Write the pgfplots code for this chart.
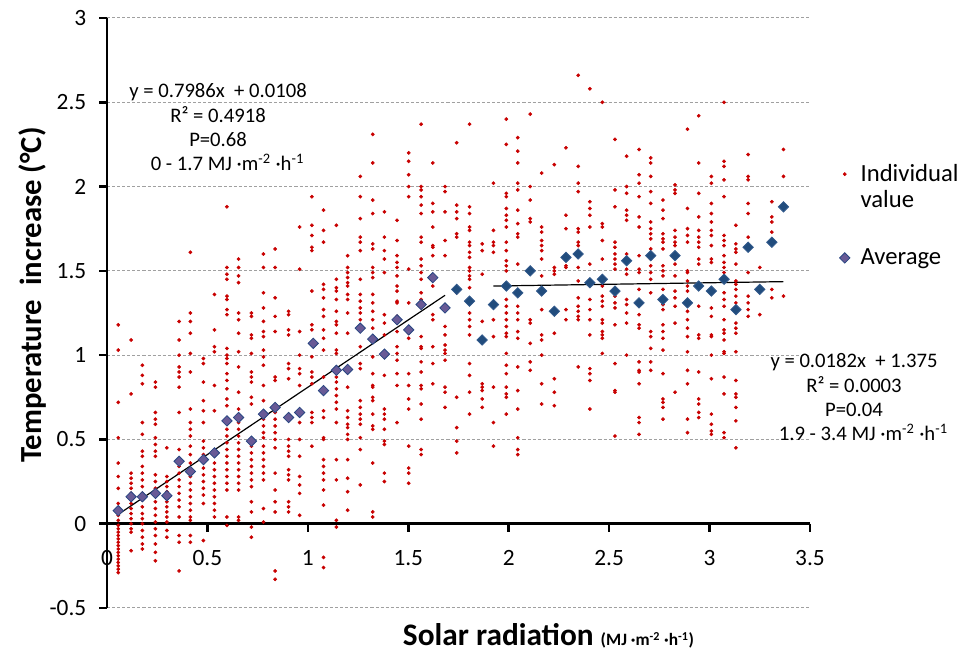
\documentclass[border=0pt]{standalone}
\usepackage{pgfplots}
\pgfplotsset{compat=1.18}
\usepackage{fontspec}
\setmainfont{Carlito}
\definecolor{dotred}{RGB}{200,0,0}
\definecolor{avgfill}{RGB}{104,90,150}
\definecolor{avgedge}{RGB}{40,70,130}
\definecolor{avgdark}{RGB}{33,76,125}
\definecolor{avgdarkedge}{RGB}{50,90,140}
\definecolor{gridgray}{RGB}{160,160,160}
\begin{document}
\begin{tikzpicture}
\begin{axis}[
  at={(0,0)}, anchor=south west,
  width=527.25pt, height=442.5pt, scale only axis,
  xmin=0, xmax=3.5, ymin=-0.5, ymax=3,
  axis x line*=middle, axis y line*=left,
  axis line style={line width=2.2pt, black},
  xtick={0,0.5,1,1.5,2,2.5,3,3.5}, xticklabels={0,0.5,1,1.5,2,2.5,3,3.5},
  ytick={-0.5,0,0.5,1,1.5,2,2.5,3}, yticklabels={-0.5,0,0.5,1,1.5,2,2.5,3},
  hide obscured x ticks=false, hide obscured y ticks=false,
  major tick length=0pt,
  ticklabel style={font=\fontsize{17.5}{20}\selectfont},
  xticklabel style={yshift=-16.5pt},
  yticklabel style={xshift=-12pt},
  ymajorgrids, major grid style={gridgray, line width=0.75pt, dash pattern=on 2.3pt off 1.5pt},
  clip=false,
  legend style={at={(rel axis cs:1.036,0.761)}, anchor=north west, draw=none, fill=none,
    font=\fontsize{18.5}{19.5}\selectfont, row sep=25.5pt, column sep=6pt,
    cells={align=left}},
  legend cell align=left,
]
\addplot[only marks, mark=*, mark size=1.2pt, color=dotred, mark options={draw=dotred, fill=dotred},
  legend image post style={yshift=9.75pt}] coordinates {
(0.056,1.18)(0.056,1.03)(0.056,0.72)(0.056,0.51)(0.056,0.36)(0.056,0.28)(0.056,0.21)(0.056,0.12)(0.056,0.05)(0.056,0.02)(0.056,-0.01)(0.056,-0.03)(0.056,-0.05)(0.056,-0.07)(0.056,-0.09)(0.056,-0.11)(0.056,-0.13)(0.056,-0.15)(0.056,-0.17)(0.056,-0.19)(0.056,-0.21)(0.056,-0.23)(0.056,-0.25)(0.056,-0.27)(0.056,-0.29)
(0.12,1.09)(0.12,0.77)(0.12,0.30)(0.12,0.27)(0.12,0.24)(0.12,0.21)(0.12,0.18)(0.12,0.15)(0.12,0.12)(0.12,0.09)(0.12,0.06)(0.12,0.03)(0.12,0.00)(0.12,-0.03)(0.12,-0.05)(0.12,-0.16)
(0.176,0.94)(0.176,0.88)(0.176,0.83)(0.176,0.60)(0.176,0.53)(0.176,0.43)(0.176,0.40)(0.176,0.34)(0.176,0.30)(0.176,0.26)(0.176,0.22)(0.176,0.18)(0.176,0.14)(0.176,0.10)(0.176,0.06)(0.176,0.03)(0.176,0.00)(0.176,-0.04)(0.176,-0.08)(0.176,-0.12)(0.176,-0.15)
(0.241,0.84)(0.241,0.81)(0.241,0.66)(0.241,0.62)(0.241,0.59)(0.241,0.51)(0.241,0.47)(0.241,0.43)(0.241,0.40)(0.241,0.29)(0.241,0.25)(0.241,0.21)(0.241,0.17)(0.241,0.13)(0.241,0.09)(0.241,0.05)(0.241,0.01)(0.241,-0.03)(0.241,-0.07)(0.241,-0.12)(0.241,-0.17)(0.241,-0.22)
(0.298,0.45)(0.298,0.28)(0.298,0.25)(0.298,0.22)(0.298,0.19)(0.298,0.16)(0.298,0.13)(0.298,0.10)(0.298,0.07)(0.298,0.04)(0.298,0.01)(0.298,-0.04)(0.298,-0.08)
(0.359,1.20)(0.359,1.09)(0.359,1.00)(0.359,0.93)(0.359,0.90)(0.359,0.87)(0.359,0.81)(0.359,0.66)(0.359,0.44)(0.359,0.38)(0.359,0.34)(0.359,0.30)(0.359,0.26)(0.359,0.22)(0.359,0.18)(0.359,0.14)(0.359,0.10)(0.359,0.04)(0.359,-0.07)(0.359,-0.11)(0.359,-0.28)
(0.415,1.61)(0.415,1.25)(0.415,1.20)(0.415,1.13)(0.415,1.01)(0.415,0.90)(0.415,0.68)(0.415,0.60)(0.415,0.56)(0.415,0.52)(0.415,0.46)(0.415,0.41)(0.415,0.36)(0.415,0.32)(0.415,0.28)(0.415,0.24)(0.415,0.20)(0.415,0.16)(0.415,0.12)(0.415,0.08)(0.415,0.04)(0.415,0.02)(0.415,-0.07)(0.415,-0.11)
(0.48,0.98)(0.48,0.95)(0.48,0.84)(0.48,0.73)(0.48,0.67)(0.48,0.60)(0.48,0.49)(0.48,0.45)(0.48,0.41)(0.48,0.37)(0.48,0.33)(0.48,0.29)(0.48,0.25)(0.48,0.21)(0.48,0.17)(0.48,0.12)(0.48,-0.10)
(0.535,1.36)(0.535,1.15)(0.535,1.05)(0.535,1.02)(0.535,0.82)(0.535,0.67)(0.535,0.36)(0.535,0.32)(0.535,0.28)(0.535,0.24)(0.535,0.20)(0.535,0.16)(0.535,0.12)(0.535,0.08)(0.535,0.04)
(0.597,1.88)(0.597,1.52)(0.597,1.48)(0.597,1.45)(0.597,1.35)(0.597,1.33)(0.597,1.27)(0.597,1.24)(0.597,1.04)(0.597,1.00)(0.597,0.98)(0.597,0.95)(0.597,0.89)(0.597,0.85)(0.597,0.80)(0.597,0.74)(0.597,0.70)(0.597,0.60)(0.597,0.56)(0.597,0.52)(0.597,0.48)(0.597,0.44)(0.597,0.40)(0.597,0.36)(0.597,0.32)(0.597,0.28)(0.597,0.24)(0.597,0.20)(0.597,0.04)(0.597,-0.01)
(0.655,1.57)(0.655,1.52)(0.655,1.47)(0.655,1.43)(0.655,1.25)(0.655,1.21)(0.655,1.13)(0.655,1.02)(0.655,0.93)(0.655,0.78)(0.655,0.68)(0.655,0.64)(0.655,0.60)(0.655,0.56)(0.655,0.52)(0.655,0.48)(0.655,0.44)(0.655,0.40)(0.655,0.36)(0.655,0.32)(0.655,0.28)(0.655,0.24)(0.655,0.20)(0.655,0.04)(0.655,0.02)
(0.719,1.25)(0.719,1.23)(0.719,1.12)(0.719,1.10)(0.719,1.01)(0.719,0.90)(0.719,0.87)(0.719,0.84)(0.719,0.75)(0.719,0.71)(0.719,0.50)(0.719,0.46)(0.719,0.42)(0.719,0.38)(0.719,0.34)(0.719,0.30)(0.719,0.26)(0.719,0.22)(0.719,0.13)(0.719,0.07)(0.719,-0.02)(0.719,-0.08)
(0.779,1.60)(0.779,1.52)(0.779,1.37)(0.779,1.28)(0.779,1.20)(0.779,1.14)(0.779,1.11)(0.779,1.03)(0.779,0.99)(0.779,0.94)(0.779,0.82)(0.779,0.73)(0.779,0.66)(0.779,0.62)(0.779,0.58)(0.779,0.54)(0.779,0.51)(0.779,0.46)(0.779,0.42)(0.779,0.38)(0.779,0.34)(0.779,0.30)(0.779,0.26)(0.779,0.09)(0.779,0.01)
(0.837,1.63)(0.837,1.52)(0.837,1.34)(0.837,1.23)(0.837,1.14)(0.837,0.87)(0.837,0.85)(0.837,0.66)(0.837,0.62)(0.837,0.58)(0.837,0.54)(0.837,0.50)(0.837,0.45)(0.837,0.30)(0.837,0.20)(0.837,0.13)(0.837,0.07)(0.837,-0.28)(0.837,-0.33)
(0.904,1.26)(0.904,1.24)(0.904,1.15)(0.904,1.12)(0.904,0.95)(0.904,0.92)(0.904,0.86)(0.904,0.50)(0.904,0.46)(0.904,0.43)(0.904,0.40)(0.904,0.32)(0.904,0.29)(0.904,0.26)(0.904,0.13)(0.904,0.10)(0.904,0.07)
(0.959,1.76)(0.959,1.51)(0.959,1.14)(0.959,1.00)(0.959,0.92)(0.959,0.89)(0.959,0.82)(0.959,0.60)(0.959,0.50)(0.959,0.40)(0.959,0.28)(0.959,0.23)(0.959,0.18)(0.959,0.05)
(1.02,1.94)(1.02,1.77)(1.02,1.71)(1.02,1.64)(1.02,1.62)(1.02,1.38)(1.02,1.18)(1.02,1.15)(1.02,0.99)(1.02,0.90)(1.02,0.87)(1.02,0.83)(1.02,0.66)(1.02,0.63)(1.02,0.60)(1.02,0.46)
(1.078,1.86)(1.078,1.74)(1.078,1.67)(1.078,1.42)(1.078,1.39)(1.078,1.34)(1.078,1.27)(1.078,1.23)(1.078,1.15)(1.078,1.10)(1.078,1.03)(1.078,0.87)(1.078,0.67)(1.078,0.63)(1.078,0.51)(1.078,0.50)(1.078,0.38)(1.078,0.34)(1.078,0.30)(1.078,0.26)(1.078,0.20)(1.078,0.11)(1.078,-0.20)(1.078,-0.26)
(1.142,1.77)(1.142,1.45)(1.142,1.40)(1.142,1.38)(1.142,1.33)(1.142,1.26)(1.142,1.20)(1.142,1.18)(1.142,1.13)(1.142,1.03)(1.142,1.01)(1.142,0.91)(1.142,0.87)(1.142,0.84)(1.142,0.80)(1.142,0.76)(1.142,0.72)(1.142,0.68)(1.142,0.60)(1.142,0.38)(1.142,0.26)(1.142,0.02)(1.142,-0.02)
(1.198,1.59)(1.198,1.52)(1.198,1.49)(1.198,1.46)(1.198,1.43)(1.198,1.41)(1.198,1.36)(1.198,1.33)(1.198,1.25)(1.198,1.13)(1.198,0.81)(1.198,0.67)(1.198,0.63)(1.198,0.59)(1.198,0.57)(1.198,0.53)(1.198,0.50)(1.198,0.38)(1.198,0.27)(1.198,0.19)(1.198,0.08)
(1.261,2.06)(1.261,1.94)(1.261,1.81)(1.261,1.70)(1.261,1.67)(1.261,1.62)(1.261,1.45)(1.261,1.36)(1.261,1.32)(1.261,1.28)(1.261,1.25)(1.261,1.21)(1.261,1.05)(1.261,0.95)(1.261,0.92)(1.261,0.73)(1.261,0.69)(1.261,0.65)(1.261,0.62)(1.261,0.59)(1.261,0.51)(1.261,0.44)(1.261,0.23)
(1.323,2.31)(1.323,2.14)(1.323,1.92)(1.323,1.84)(1.323,1.66)(1.323,1.63)(1.323,1.52)(1.323,1.49)(1.323,1.46)(1.323,1.36)(1.323,1.31)(1.323,1.26)(1.323,1.21)(1.323,1.16)(1.323,1.11)(1.323,0.99)(1.323,0.89)(1.323,0.82)(1.323,0.81)(1.323,0.75)(1.323,0.73)(1.323,0.65)(1.323,0.58)(1.323,0.56)(1.323,0.36)(1.323,0.07)(1.323,0.04)
(1.381,1.85)(1.381,1.70)(1.381,1.62)(1.381,1.57)(1.381,1.49)(1.381,1.24)(1.381,1.19)(1.381,1.12)(1.381,0.88)(1.381,0.68)(1.381,0.65)(1.381,0.62)(1.381,0.56)(1.381,0.49)(1.381,0.47)(1.381,0.30)(1.381,0.25)
(1.444,1.80)(1.444,1.68)(1.444,1.59)(1.444,1.55)(1.444,1.52)(1.444,1.47)(1.444,1.41)(1.444,1.38)(1.444,1.32)(1.444,1.31)(1.444,1.23)(1.444,1.14)(1.444,1.05)(1.444,1.01)(1.444,0.97)(1.444,0.89)(1.444,0.82)(1.444,0.60)
(1.502,2.20)(1.502,2.15)(1.502,2.07)(1.502,2.00)(1.502,1.94)(1.502,1.51)(1.502,1.31)(1.502,1.16)(1.502,1.13)(1.502,1.10)(1.502,0.89)(1.502,0.82)(1.502,0.74)(1.502,0.68)(1.502,0.46)(1.502,0.33)(1.502,0.30)(1.502,0.24)
(1.564,2.37)(1.564,2.00)(1.564,1.98)(1.564,1.94)(1.564,1.89)(1.564,1.84)(1.564,1.70)(1.564,1.67)(1.564,1.57)(1.564,1.53)(1.564,1.49)(1.564,1.45)(1.564,1.37)(1.564,1.33)(1.564,1.11)(1.564,1.05)(1.564,1.04)(1.564,0.96)(1.564,0.90)(1.564,0.82)(1.564,0.80)(1.564,0.71)(1.564,0.62)(1.564,0.44)(1.564,0.41)
(1.622,2.14)(1.622,1.90)(1.622,1.85)(1.622,1.76)(1.622,1.65)(1.622,1.64)(1.622,1.59)(1.622,1.41)(1.622,1.24)(1.622,1.21)(1.622,1.05)(1.622,0.95)(1.622,0.83)
(1.683,2.00)(1.683,1.97)(1.683,1.85)(1.683,1.68)(1.683,1.59)(1.683,1.17)(1.683,1.12)(1.683,1.06)(1.683,1.03)(1.683,1.01)(1.683,0.97)(1.683,0.81)(1.683,0.78)(1.683,0.69)
(1.741,2.26)(1.741,1.89)(1.741,1.85)(1.741,1.81)(1.741,1.72)(1.741,1.70)(1.741,1.37)(1.741,0.75)(1.741,0.57)(1.741,0.49)(1.741,0.42)
(1.805,2.37)(1.805,1.88)(1.805,1.84)(1.805,1.76)(1.805,1.74)(1.805,1.67)(1.805,1.65)(1.805,1.61)(1.805,1.58)(1.805,1.52)(1.805,1.50)(1.805,1.47)(1.805,1.45)(1.805,1.40)(1.805,1.25)(1.805,1.21)(1.805,1.17)(1.805,1.12)(1.805,0.95)(1.805,0.88)(1.805,0.78)(1.805,0.65)
(1.868,1.66)(1.868,1.62)(1.868,1.48)(1.868,1.20)(1.868,0.83)(1.868,0.81)(1.868,0.79)(1.868,0.74)(1.868,0.69)
(1.924,2.02)(1.924,1.74)(1.924,1.67)(1.924,1.65)(1.924,1.61)(1.924,1.21)(1.924,1.11)(1.924,0.81)(1.924,0.60)(1.924,0.46)
(1.988,2.40)(1.988,2.25)(1.988,1.96)(1.988,1.94)(1.988,1.87)(1.988,1.83)(1.988,1.80)(1.988,1.76)(1.988,1.67)(1.988,1.62)(1.988,1.56)(1.988,1.53)(1.988,1.50)(1.988,1.42)(1.988,1.33)(1.988,1.29)(1.988,1.25)(1.988,1.21)(1.988,1.17)(1.988,1.13)(1.988,1.11)(1.988,1.01)(1.988,0.94)(1.988,0.89)(1.988,0.81)(1.988,0.77)(1.988,0.75)(1.988,0.65)
(2.045,2.29)(2.045,2.21)(2.045,2.14)(2.045,2.02)(2.045,1.98)(2.045,1.86)(2.045,1.78)(2.045,1.72)(2.045,1.70)(2.045,1.54)(2.045,1.29)(2.045,1.25)(2.045,1.21)(2.045,1.14)(2.045,1.10)(2.045,0.93)(2.045,0.79)(2.045,0.68)(2.045,0.51)(2.045,0.44)(2.045,0.41)
(2.107,2.43)(2.107,2.00)(2.107,1.92)(2.107,1.81)(2.107,1.79)(2.107,1.21)(2.107,1.19)(2.107,1.07)(2.107,0.96)(2.107,0.91)
(2.164,2.08)(2.164,1.76)(2.164,1.73)(2.164,1.68)(2.164,1.65)(2.164,1.62)(2.164,1.57)(2.164,1.47)(2.164,1.27)(2.164,1.12)(2.164,1.09)(2.164,1.00)(2.164,0.83)(2.164,0.71)
(2.227,2.13)(2.227,1.52)(2.227,1.50)(2.227,1.48)(2.227,1.13)(2.227,0.86)(2.227,0.78)(2.227,0.70)
(2.285,2.23)(2.285,1.83)(2.285,1.75)(2.285,1.53)(2.285,1.52)(2.285,1.27)(2.285,1.21)
(2.346,2.66)(2.346,2.12)(2.346,2.02)(2.346,1.97)(2.346,1.75)(2.346,1.73)(2.346,1.67)(2.346,1.65)(2.346,1.52)(2.346,1.44)(2.346,1.34)(2.346,1.29)(2.346,1.26)(2.346,1.23)(2.346,1.21)(2.346,0.93)
(2.404,2.58)(2.404,1.91)(2.404,1.87)(2.404,1.83)(2.404,1.76)(2.404,1.54)(2.404,1.33)(2.404,1.27)(2.404,1.21)(2.404,1.12)(2.404,0.92)(2.404,0.89)(2.404,0.85)(2.404,0.68)
(2.466,2.50)(2.466,1.78)(2.466,1.76)(2.466,1.68)(2.466,1.57)(2.466,1.41)(2.466,1.35)(2.466,1.32)(2.466,1.29)(2.466,1.21)(2.466,1.19)(2.466,1.14)(2.466,1.12)(2.466,1.10)(2.466,1.01)
(2.529,2.28)(2.529,1.98)(2.529,1.88)(2.529,1.67)(2.529,1.64)(2.529,1.60)(2.529,1.57)(2.529,1.54)(2.529,1.51)(2.529,1.35)(2.529,1.31)(2.529,1.28)(2.529,1.18)(2.529,0.95)(2.529,0.79)(2.529,0.78)(2.529,0.52)
(2.587,2.18)(2.587,2.00)(2.587,1.96)(2.587,1.86)(2.587,1.83)(2.587,1.80)(2.587,1.60)(2.587,1.51)(2.587,1.48)(2.587,1.33)(2.587,1.30)(2.587,1.25)(2.587,1.19)(2.587,1.00)
(2.649,2.22)(2.649,2.07)(2.649,2.02)(2.649,1.94)(2.649,1.82)(2.649,1.76)(2.649,1.59)(2.649,1.51)(2.649,1.49)(2.649,1.39)(2.649,1.24)(2.649,1.18)(2.649,1.16)(2.649,0.96)(2.649,0.91)(2.649,0.90)(2.649,0.83)(2.649,0.63)(2.649,0.60)(2.649,0.53)
(2.707,2.17)(2.707,2.14)(2.707,2.06)(2.707,1.97)(2.707,1.90)(2.707,1.79)(2.707,1.75)(2.707,1.72)(2.707,1.69)(2.707,1.63)(2.707,1.57)(2.707,1.53)(2.707,1.49)(2.707,1.45)(2.707,1.37)(2.707,1.14)(2.707,1.11)(2.707,1.04)(2.707,0.96)(2.707,0.91)
(2.768,1.92)(2.768,1.86)(2.768,1.81)(2.768,1.72)(2.768,1.69)(2.768,1.67)(2.768,1.63)(2.768,1.53)(2.768,1.50)(2.768,1.47)(2.768,1.39)(2.768,1.33)(2.768,1.30)(2.768,1.27)(2.768,1.18)(2.768,1.14)(2.768,1.10)(2.768,1.03)(2.768,0.89)(2.768,0.74)(2.768,0.72)(2.768,0.69)(2.768,0.62)
(2.828,2.01)(2.828,1.98)(2.828,1.96)(2.828,1.74)(2.828,1.70)(2.828,1.67)(2.828,1.65)(2.828,1.54)(2.828,1.47)(2.828,1.38)(2.828,1.34)(2.828,1.29)(2.828,1.19)(2.828,0.78)
(2.89,2.34)(2.89,1.87)(2.89,1.75)(2.89,1.71)(2.89,1.67)(2.89,1.50)(2.89,1.49)(2.89,1.44)(2.89,1.41)(2.89,1.38)(2.89,1.31)(2.89,1.26)(2.89,1.21)(2.89,1.16)(2.89,1.11)(2.89,1.02)(2.89,0.91)(2.89,0.83)(2.89,0.62)(2.89,0.54)
(2.946,2.42)(2.946,2.14)(2.946,1.96)(2.946,1.82)(2.946,1.74)(2.946,1.70)(2.946,1.67)(2.946,1.64)(2.946,1.57)(2.946,1.54)(2.946,1.29)(2.946,1.12)(2.946,1.10)(2.946,0.90)(2.946,0.74)(2.946,0.71)(2.946,0.66)(2.946,0.63)
(3.009,2.06)(3.009,2.02)(3.009,1.90)(3.009,1.84)(3.009,1.79)(3.009,1.74)(3.009,1.71)(3.009,1.65)(3.009,1.57)(3.009,1.55)(3.009,1.28)(3.009,1.23)(3.009,1.12)(3.009,1.11)(3.009,1.00)(3.009,0.86)(3.009,0.65)(3.009,0.59)(3.009,0.55)(3.009,0.53)
(3.072,2.50)(3.072,2.15)(3.072,2.12)(3.072,2.04)(3.072,1.94)(3.072,1.71)(3.072,1.68)(3.072,1.65)(3.072,1.59)(3.072,1.55)(3.072,1.52)(3.072,1.49)(3.072,1.37)(3.072,1.33)(3.072,1.29)(3.072,1.21)(3.072,1.15)(3.072,1.13)(3.072,1.09)(3.072,1.02)(3.072,1.01)(3.072,0.87)(3.072,0.77)(3.072,0.54)(3.072,0.51)
(3.131,1.77)(3.131,1.66)(3.131,1.63)(3.131,1.61)(3.131,1.54)(3.131,1.44)(3.131,1.42)(3.131,1.39)(3.131,1.35)(3.131,1.31)(3.131,1.28)(3.131,1.19)(3.131,1.16)(3.131,1.13)(3.131,1.02)(3.131,0.85)(3.131,0.77)(3.131,0.75)(3.131,0.69)(3.131,0.61)(3.131,0.45)
(3.192,2.19)(3.192,2.06)(3.192,2.04)(3.192,1.90)(3.192,1.84)(3.192,1.70)(3.192,1.49)(3.192,1.35)(3.192,1.31)(3.192,1.27)(3.192,1.23)
(3.25,1.52)(3.25,1.24)
(3.31,1.91)(3.31,1.82)(3.31,1.79)(3.31,1.73)(3.31,1.39)(3.31,1.34)
(3.368,2.22)(3.368,2.06)(3.368,1.35)
};
\addlegendentry{Individual\\value}
\addplot[forget plot, black, line width=0.9pt] coordinates {(0.056,0.0555)(1.683,1.355)};
\addplot[forget plot, black, line width=0.9pt] coordinates {(1.924,1.410)(3.368,1.436)};
\addplot[only marks, mark=square*, mark size=2.75pt, mark options={rotate=45, fill=avgfill, draw=avgedge, line width=0.6pt}] coordinates {
(0.056,0.077)(0.120,0.16)(0.176,0.16)(0.241,0.18)(0.298,0.166)(0.359,0.37)(0.415,0.31)(0.480,0.38)(0.535,0.42)(0.597,0.61)(0.655,0.63)(0.719,0.49)(0.779,0.65)(0.837,0.69)(0.904,0.63)(0.959,0.66)(1.027,1.07)(1.078,0.79)(1.142,0.91)(1.198,0.915)(1.261,1.16)(1.323,1.095)(1.381,1.006)(1.444,1.21)(1.502,1.15)(1.564,1.30)(1.622,1.46)(1.683,1.28)
};
\addlegendentry{Average}
\addplot[forget plot, only marks, mark=square*, mark size=2.75pt, mark options={rotate=45, fill=avgdark, draw=avgdarkedge, line width=0.6pt}] coordinates {
(1.741,1.39)(1.805,1.32)(1.868,1.09)(1.924,1.30)(1.988,1.41)(2.045,1.37)(2.107,1.50)(2.164,1.38)(2.227,1.26)(2.285,1.58)(2.346,1.60)(2.404,1.43)(2.466,1.45)(2.529,1.38)(2.587,1.56)(2.649,1.31)(2.707,1.59)(2.768,1.33)(2.828,1.59)(2.890,1.31)(2.946,1.41)(3.009,1.38)(3.072,1.45)(3.131,1.27)(3.192,1.64)(3.250,1.39)(3.310,1.67)(3.368,1.88)
};
\pgfplotsinvokeforeach{0.5,1,1.5,2,2.5,3,3.5}{\draw[line width=2pt, black] (axis cs:#1,0) -- ++(0pt,-6.5pt);}
\pgfplotsinvokeforeach{-0.5,0,0.5,1,1.5,2,2.5,3}{\draw[line width=2pt, black] (axis cs:0,#1) -- ++(-6pt,0pt);}
\node[anchor=north, align=center, inner sep=0pt, font=\fontsize{15.5}{18.2}\selectfont] at (axis cs:0.553,2.612)
  {y = 0.7986x \ + 0.0108\\R² = 0.4918\\P=0.68\\\hspace*{14pt}0 - 1.7 MJ ·m\textsuperscript{-2} ·h\textsuperscript{-1}};
\node[anchor=north, align=center, inner sep=0pt, font=\fontsize{15.5}{18.2}\selectfont] at (axis cs:3.719,1.01)
  {y = 0.0182x \ + 1.375\\R² = 0.0003\\P=0.04\\\hspace*{14pt}1.9 - 3.4 MJ ·m\textsuperscript{-2} ·h\textsuperscript{-1}};
\node[anchor=base, font=\bfseries\fontsize{23.5}{26}\selectfont] at (rel axis cs:0.628,-0.0644)
  {Solar radiation {\fontsize{13}{16}\selectfont(MJ ·m\textsuperscript{-2} ·h\textsuperscript{-1})}};
\node[rotate=90, anchor=base, font=\bfseries\fontsize{23}{26}\selectfont] at (rel axis cs:-0.0925,0.5305)
  {Temperature\ \ increase (°C)};
\end{axis}
\pgfresetboundingbox
\path[use as bounding box] (-80.25pt,-35.25pt) rectangle (648pt,456pt);
\end{tikzpicture}
\end{document}
